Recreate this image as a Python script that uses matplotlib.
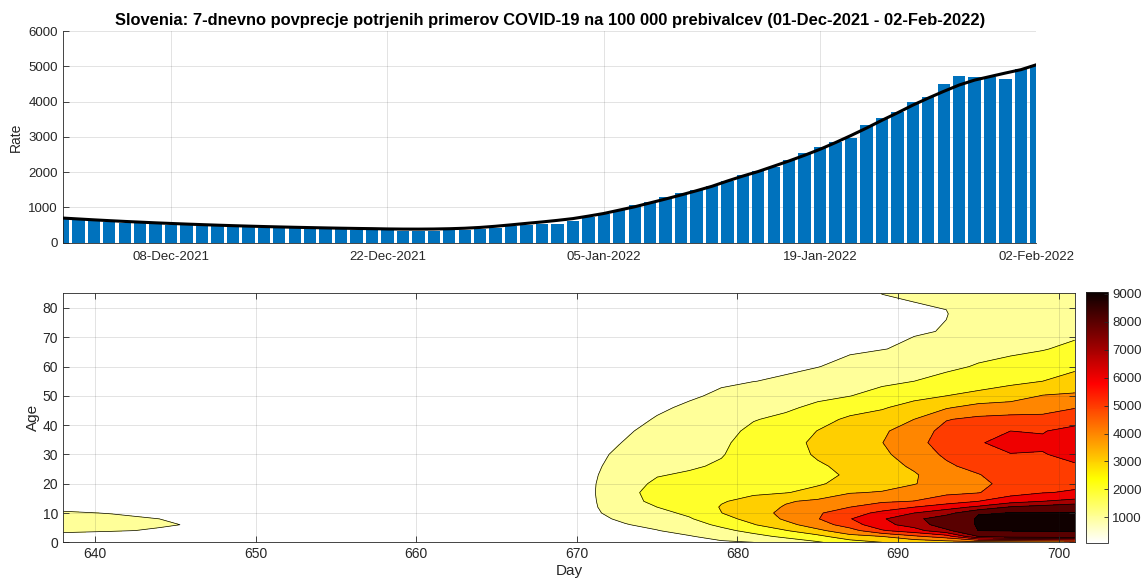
import numpy as np
import matplotlib
matplotlib.use("Agg")
import matplotlib.pyplot as plt
import matplotlib.dates as mdates
from matplotlib.colors import Normalize
from matplotlib.cm import ScalarMappable
from datetime import datetime, timedelta

plt.rcParams['font.family'] = ['Liberation Sans', 'DejaVu Sans']

# ---- daily 7-day average per 100 000, 01-Dec-2021 .. 02-Feb-2022 ----
start_date = datetime(2021, 12, 1)
rate_bars = [660, 635, 605, 585, 565, 548, 528, 512, 497, 478, 466, 455, 444, 432, 418, 408,
             398, 392, 383, 373, 363, 350, 345, 343, 347, 352, 362, 390, 420, 462, 500, 545,
             530, 615, 720, 815, 935, 1065, 1160, 1285, 1400, 1495, 1610, 1757, 1919, 2032,
             2154, 2343, 2551, 2721, 2863, 2976, 3336, 3526, 3713, 3979, 4138, 4490, 4720,
             4710, 4700, 4640, 4930, 5050]
rate_trend = [700, 675, 650, 627, 605, 585, 565, 547, 530, 514, 499, 485, 472, 460, 449, 439,
              430, 421, 413, 406, 400, 392, 388, 387, 390, 398, 412, 435, 468, 508, 550, 590,
              635, 685, 755, 830, 925, 1020, 1130, 1240, 1355, 1475, 1600, 1750, 1890, 2020,
              2170, 2320, 2480, 2650, 2840, 3040, 3250, 3470, 3680, 3900, 4100, 4290, 4470,
              4610, 4710, 4810, 4905, 5045]
date_ticks = ['08-Dec-2021', '22-Dec-2021', '05-Jan-2022', '19-Jan-2022', '02-Feb-2022']

# ---- rate by age group and day number ----
days = [638, 641, 644, 647, 650, 655, 660, 665, 669, 671, 673, 675, 677, 679, 681, 683,
        685, 687, 689, 691, 693, 695, 697, 699, 701]
ages = [0, 2, 4, 6, 8, 10, 12, 14, 17, 20, 23, 26, 30, 34, 38, 42, 46, 50, 55, 60, 66, 72, 78, 85]
# one row per day, values listed in the order of `ages`
age_rate = [
    [300, 850, 1080, 1150, 1120, 1030, 930, 850, 720, 620, 600, 620, 660, 680, 700, 680, 640, 580, 500, 420, 350, 300, 270, 250],
    [270, 800, 1030, 1090, 1060, 990, 900, 800, 680, 580, 560, 580, 620, 640, 650, 630, 600, 540, 460, 390, 330, 280, 250, 230],
    [240, 740, 970, 1030, 1000, 920, 840, 750, 630, 540, 520, 540, 580, 600, 610, 590, 560, 500, 430, 360, 300, 260, 230, 210],
    [210, 680, 900, 960, 930, 860, 780, 700, 590, 500, 480, 500, 540, 560, 570, 550, 520, 470, 400, 340, 280, 240, 220, 200],
    [170, 600, 800, 860, 840, 780, 710, 640, 550, 460, 440, 460, 500, 520, 530, 510, 480, 430, 370, 310, 260, 220, 200, 190],
    [110, 520, 690, 740, 730, 690, 630, 570, 490, 420, 400, 410, 440, 460, 470, 450, 420, 380, 330, 280, 240, 210, 190, 180],
    [80, 480, 640, 680, 670, 640, 600, 560, 500, 440, 420, 420, 430, 440, 440, 420, 390, 350, 310, 270, 230, 200, 180, 170],
    [120, 480, 620, 660, 680, 680, 670, 660, 640, 610, 580, 560, 540, 510, 480, 440, 400, 360, 310, 270, 240, 210, 190, 180],
    [200, 500, 650, 720, 770, 810, 850, 880, 900, 880, 840, 790, 730, 650, 580, 520, 460, 400, 340, 300, 260, 230, 210, 190],
    [300, 550, 700, 800, 860, 890, 910, 920, 940, 930, 900, 860, 800, 700, 620, 550, 480, 420, 360, 320, 280, 250, 230, 200],
    [400, 700, 850, 970, 1100, 1300, 1500, 1650, 1750, 1650, 1500, 1350, 1200, 1040, 900, 780, 680, 600, 520, 450, 390, 340, 300, 270],
    [600, 850, 980, 1150, 1400, 1700, 2000, 2250, 2300, 2150, 1950, 1800, 1650, 1450, 1250, 1050, 900, 780, 660, 560, 470, 400, 350, 300],
    [800, 950, 1250, 1600, 1900, 2200, 2450, 2600, 2600, 2400, 2100, 1900, 1800, 1700, 1500, 1300, 1100, 920, 780, 660, 550, 470, 400, 350],
    [900, 1250, 1750, 2200, 2700, 2990, 3050, 2950, 2750, 2550, 2300, 2100, 1950, 1850, 1700, 1500, 1300, 1100, 920, 780, 650, 550, 470, 410],
    [1000, 1700, 2300, 2950, 3300, 3500, 3450, 3200, 2900, 2700, 2550, 2450, 2400, 2350, 2200, 1950, 1700, 1350, 990, 850, 700, 600, 520, 450],
    [1400, 2200, 2950, 3700, 4150, 4300, 4100, 3900, 2950, 2800, 2650, 2600, 2650, 2650, 2500, 2200, 1850, 1550, 1080, 900, 780, 660, 570, 500],
    [1900, 2700, 3800, 4500, 4950, 4900, 4600, 4200, 3300, 2900, 2800, 2900, 3100, 3200, 3020, 2700, 2200, 1800, 1350, 980, 820, 700, 600, 530],
    [2500, 3700, 4600, 5500, 5950, 5500, 5000, 4500, 3950, 3300, 3100, 3200, 3450, 3600, 3500, 3150, 2650, 1980, 1600, 1200, 900, 760, 650, 570],
    [3000, 4000, 5900, 6700, 6900, 6300, 5400, 4900, 4050, 3700, 3500, 3600, 3800, 3980, 3850, 3450, 2900, 2350, 1800, 1400, 980, 820, 800, 1010],
    [3300, 4800, 6600, 7400, 7700, 7000, 6000, 5020, 4500, 3950, 3900, 4150, 4500, 4700, 4500, 4000, 3400, 2700, 2000, 1600, 1100, 960, 920, 1060],
    [3500, 5500, 7800, 8600, 8700, 7600, 6600, 5500, 4800, 4500, 4600, 4850, 5150, 5400, 5300, 4950, 3900, 3000, 2400, 1750, 1350, 1020, 990, 1040],
    [3500, 8000, 9010, 9050, 9040, 8980, 7200, 6000, 4950, 4700, 4950, 5300, 5700, 5950, 5700, 5200, 4400, 3200, 2650, 2100, 1600, 1300, 1150, 1100],
    [3600, 8600, 9030, 9060, 9050, 9005, 8100, 6600, 5600, 5400, 5500, 5700, 5980, 6200, 6000, 5300, 4500, 3500, 2800, 2300, 1800, 1500, 1300, 1200],
    [3800, 8700, 9040, 9070, 9060, 9010, 8400, 7000, 5950, 5600, 5600, 5700, 5950, 6150, 5950, 5300, 4600, 4050, 3000, 2500, 1950, 1650, 1450, 1350],
    [4000, 8800, 9050, 9080, 9070, 9020, 8800, 7300, 6100, 5800, 5750, 5900, 6250, 6400, 6300, 5600, 4950, 4150, 3400, 2800, 2200, 1800, 1550, 1400],
]
contour_levels = [1000, 2000, 3000, 4000, 5000, 6000, 7000, 8000, 9000]

TXT = '#262626'
GRID = dict(color=TXT, alpha=0.15, linewidth=0.6)

fig = plt.figure(figsize=(11.44, 5.85), dpi=100)

# ---------------- top: bar chart with trend ----------------
ax1 = fig.add_axes([0.055, 0.585, 0.851, 0.362])
dates = [start_date + timedelta(days=i) for i in range(len(rate_bars))]
ax1.bar(dates, rate_bars, width=0.8, color='#0072BD', zorder=2)
ax1.plot(dates, rate_trend, color='black', linewidth=2.2, zorder=3)
ax1.set_xlim(dates[0], dates[-1])
ax1.set_ylim(0, 6000)
ax1.set_yticks(range(0, 6001, 1000))
ax1.set_xticks([datetime.strptime(d, '%d-%b-%Y') for d in date_ticks])
ax1.xaxis.set_major_formatter(mdates.DateFormatter('%d-%b-%Y'))
ax1.set_axisbelow(True)
ax1.grid(True, **GRID)
for s in ('top', 'right'):
    ax1.spines[s].set_visible(False)
for s in ('left', 'bottom'):
    ax1.spines[s].set_color(TXT)
    ax1.spines[s].set_linewidth(0.6)
ax1.tick_params(direction='in', length=4, width=0.6, colors=TXT, labelsize=9.5)
ax1.tick_params(axis='x', length=0, pad=6)
ax1.set_ylabel('Rate', fontsize=10, color=TXT, labelpad=4)
ax1.set_title('Slovenia: 7-dnevno povprecje potrjenih primerov COVID-19 na 100 000 prebivalcev '
              '(01-Dec-2021 - 02-Feb-2022)', fontsize=11.9, fontweight='bold', pad=4)

# ---------------- bottom: filled contour by age ----------------
ax2 = fig.add_axes([0.055, 0.073, 0.8845, 0.4256])
Z = np.array(age_rate).T
zmin, zmax = Z.min(), Z.max()
cmap = plt.get_cmap('hot_r')
norm = Normalize(vmin=zmin, vmax=zmax)
levels = [0] + contour_levels + [zmax + 1]
band_colors = [cmap(norm(max(lv, zmin))) for lv in levels[:-1]]
ax2.contourf(days, ages, Z, levels=levels, colors=band_colors)
ax2.contour(days, ages, Z, levels=contour_levels, colors='black', linewidths=0.5)
ax2.set_xlim(638, 701)
ax2.set_ylim(0, 85)
ax2.set_xticks(range(640, 701, 10))
ax2.set_yticks(range(0, 81, 10))
ax2.set_axisbelow(False)
ax2.grid(True, **GRID)
for s in ax2.spines.values():
    s.set_color(TXT)
    s.set_linewidth(0.6)
ax2.tick_params(direction='in', length=4, width=0.6, colors=TXT, labelsize=10,
                top=True, right=True)
ax2.set_xlabel('Day', fontsize=11, color=TXT, labelpad=2)
ax2.set_ylabel('Age', fontsize=11, color=TXT, labelpad=2)

cax = fig.add_axes([0.9492, 0.0718, 0.0189, 0.4296])
cb = fig.colorbar(ScalarMappable(norm=norm, cmap=cmap), cax=cax, ticks=contour_levels)
cb.outline.set_edgecolor(TXT)
cb.outline.set_linewidth(0.6)
cax.tick_params(direction='in', length=3, width=0.6, colors=TXT, labelsize=9.5)

fig.savefig('out.png', dpi=100)
